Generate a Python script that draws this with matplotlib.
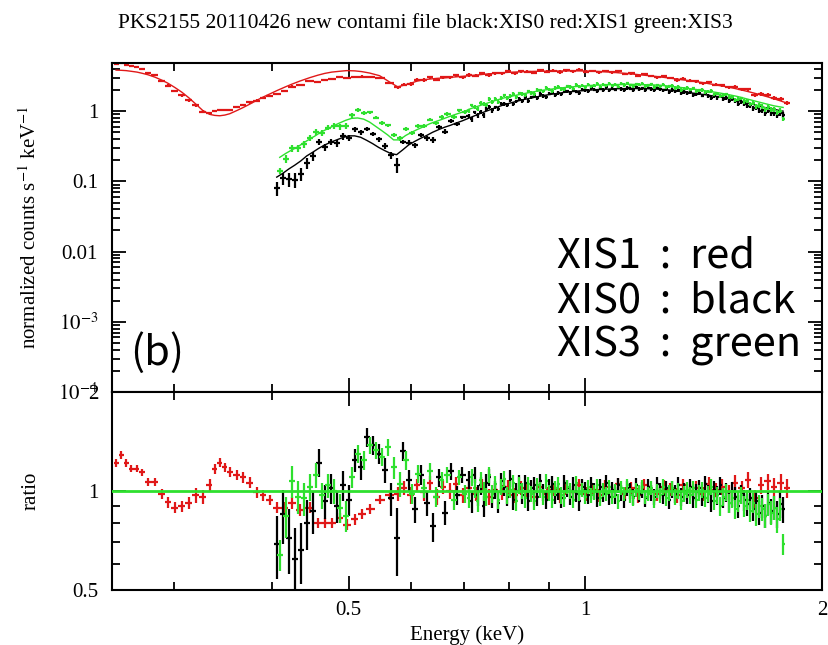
import numpy as np
import matplotlib
matplotlib.use('Agg')
import matplotlib.pyplot as plt
from matplotlib.ticker import LogLocator, NullFormatter

plt.rcParams['font.family'] = 'Liberation Serif'
plt.rcParams['mathtext.fontset'] = 'stix'

# XIS1 (rojo): energias (keV), modelo (counts/s/keV), cociente datos/modelo y error del cociente
e_xis1 = [0.2530, 0.2567, 0.2605, 0.2643, 0.2690, 0.2729, 0.2778, 0.2835, 0.2894, 0.2945,
          0.3006, 0.3068, 0.3131, 0.3196, 0.3262, 0.3329, 0.3378, 0.3428, 0.3479, 0.3530,
          0.3603, 0.3667, 0.3743, 0.3821, 0.3888, 0.3969, 0.4051, 0.4147, 0.4232, 0.4333,
          0.4461, 0.4567, 0.4661, 0.4758, 0.4870, 0.4971, 0.5089, 0.5194, 0.5317, 0.5474,
          0.5637,
          0.5771, 0.5882, 0.5995, 0.6110, 0.6227, 0.6347, 0.6469, 0.6593, 0.6719, 0.6848,
          0.6980, 0.7114, 0.7250, 0.7390, 0.7531, 0.7676, 0.7823, 0.7974, 0.8127, 0.8283,
          0.8441, 0.8603, 0.8768, 0.8936, 0.9108, 0.9283, 0.9461, 0.9642, 0.9827, 1.0016,
          1.0208, 1.0404, 1.0603, 1.0807, 1.1014, 1.1226, 1.1441, 1.1661, 1.1884, 1.2112,
          1.2345, 1.2582, 1.2823, 1.3069, 1.3320, 1.3576, 1.3836, 1.4102, 1.4372, 1.4648,
          1.4929, 1.5215, 1.5507, 1.5805, 1.6108, 1.6417, 1.6732, 1.7053, 1.7380, 1.7714,
          1.8054]
modelo_xis1 = [3.84, 3.82, 3.78, 3.70, 3.60, 3.47, 3.30, 3.05, 2.76, 2.50,
               2.17, 1.86, 1.55, 1.26, 1.02, 0.90, 0.87, 0.86, 0.88, 0.92,
               1.02, 1.12, 1.26, 1.43, 1.58, 1.76, 1.96, 2.20, 2.42, 2.68,
               3.00, 3.25, 3.45, 3.60, 3.70, 3.78, 3.75, 3.66, 3.49, 3.20,
               2.60,
               2.22, 2.35, 2.50, 2.68, 2.80, 2.87, 2.93, 2.97, 3.02, 3.08,
               3.13, 3.20, 3.26, 3.33, 3.40, 3.46, 3.52, 3.57, 3.60, 3.64,
               3.67, 3.69, 3.70, 3.71, 3.72, 3.73, 3.74, 3.75, 3.75, 3.73,
               3.71, 3.67, 3.63, 3.58, 3.52, 3.46, 3.39, 3.32, 3.25, 3.18,
               3.10, 3.03, 2.95, 2.87, 2.79, 2.71, 2.63, 2.55, 2.46, 2.37,
               2.28, 2.20, 2.10, 2.00, 1.90, 1.80, 1.70, 1.60, 1.50, 1.40,
               1.30]
ratio_xis1 = [1.22, 1.29, 1.22, 1.17, 1.17, 1.14, 1.065, 1.065, 0.98, 0.925,
              0.89, 0.90, 0.92, 0.97, 0.96, 1.04, 1.17, 1.22, 1.18, 1.14,
              1.12, 1.10, 1.06, 0.99, 0.97, 0.94, 0.89, 0.89, 0.92, 0.875,
              0.89, 0.80, 0.80, 0.80, 0.83, 0.79, 0.82, 0.85, 0.88, 0.94,
              0.97,
              0.98, 1.02, 0.97, 1.04, 0.99, 1.06, 0.96, 1.03, 1.00, 1.05,
              0.97, 1.02, 0.98, 1.04, 0.96, 1.01, 0.99, 1.03, 0.97, 1.02,
              1.00, 0.96, 1.03, 0.98, 1.01, 0.97, 1.02, 0.99, 1.04, 0.98,
              1.01, 0.97, 1.03, 1.00, 1.05, 0.98, 1.02, 0.97, 1.04, 1.00,
              0.98, 1.03, 1.01, 0.97, 1.04, 1.00, 1.02, 0.98, 1.05, 1.01,
              1.03, 0.99, 1.06, 1.02, 1.08, 0.95, 1.04, 1.07, 1.03, 1.06,
              1.02]
err_xis1 = [0.035, 0.035, 0.035, 0.03, 0.03, 0.03, 0.03, 0.03, 0.035, 0.035,
            0.035, 0.035, 0.04, 0.05, 0.05, 0.045, 0.04, 0.04, 0.04, 0.04,
            0.04, 0.04, 0.04, 0.04, 0.04, 0.035, 0.035, 0.035, 0.04, 0.035,
            0.035, 0.03, 0.03, 0.03, 0.03, 0.03, 0.03, 0.03, 0.03, 0.03,
            0.03,
            0.05, 0.05, 0.055, 0.05, 0.055, 0.05, 0.055, 0.05, 0.055, 0.05,
            0.05, 0.055, 0.05, 0.05, 0.055, 0.05, 0.05, 0.05, 0.05, 0.05,
            0.05, 0.05, 0.045, 0.05, 0.045, 0.05, 0.045, 0.045, 0.05, 0.045,
            0.045, 0.045, 0.05, 0.045, 0.045, 0.045, 0.045, 0.05, 0.045, 0.045,
            0.045, 0.05, 0.045, 0.05, 0.045, 0.05, 0.05, 0.05, 0.05, 0.05,
            0.055, 0.05, 0.055, 0.055, 0.06, 0.06, 0.06, 0.06, 0.065, 0.065,
            0.07]

# XIS0 / XIS3: canales anchos a baja energia, canales finos (comunes) por encima de 0.71 keV
e_xis0_baja = [0.405, 0.4122, 0.4195, 0.4269, 0.4344, 0.4421, 0.4500, 0.4579, 0.4660, 0.4743,
               0.4827, 0.4912, 0.4999, 0.5088, 0.5178, 0.5269, 0.5363, 0.5458, 0.5554, 0.5653,
               0.5753, 0.5855, 0.5959, 0.6064, 0.6171, 0.6281, 0.6392, 0.6505, 0.6620, 0.6738,
               0.6857, 0.6978]
e_xis3_baja = [0.4086, 0.4158, 0.4232, 0.4307, 0.4382, 0.4460, 0.4540, 0.4619, 0.4701, 0.4785,
               0.4870, 0.4955, 0.5043, 0.5133, 0.5224, 0.5315, 0.5410, 0.5506, 0.5603, 0.5703,
               0.5804, 0.5907, 0.6011, 0.6117, 0.6225, 0.6336, 0.6448, 0.6562, 0.6678, 0.6797,
               0.6917, 0.7039]
e_fi_alta = [0.7102, 0.7165, 0.7228, 0.7292, 0.7356, 0.7421, 0.7486, 0.7552, 0.7618, 0.7685,
             0.7753, 0.7821, 0.7891, 0.7961, 0.8030, 0.8101, 0.8173, 0.8245, 0.8317, 0.8390,
             0.8465, 0.8540, 0.8615, 0.8691, 0.8767, 0.8844, 0.8923, 0.9002, 0.9081, 0.9161,
             0.9241, 0.9322, 0.9405, 0.9488, 0.9571, 0.9655, 0.9741, 0.9827, 0.9913, 1.0000,
             1.0089, 1.0178, 1.0268, 1.0358, 1.0449, 1.0541, 1.0634, 1.0728, 1.0823, 1.0918,
             1.1014, 1.1111, 1.1209, 1.1308, 1.1408, 1.1508, 1.1610, 1.1712, 1.1815, 1.1919,
             1.2024, 1.2130, 1.2237, 1.2345, 1.2454, 1.2564, 1.2674, 1.2786, 1.2899, 1.3013,
             1.3127, 1.3243, 1.3359, 1.3477, 1.3596, 1.3716, 1.3837, 1.3959, 1.4082, 1.4206,
             1.4331, 1.4457, 1.4584, 1.4712, 1.4843, 1.4974, 1.5105, 1.5238, 1.5373, 1.5508,
             1.5645, 1.5783, 1.5922, 1.6062, 1.6204, 1.6347, 1.6490, 1.6635, 1.6782, 1.6930,
             1.7080, 1.7230, 1.7382, 1.7535, 1.7690, 1.7846]

# XIS0 (negro): 32 canales anchos + 106 finos
modelo_xis0 = [0.115, 0.13, 0.15, 0.17, 0.195, 0.23, 0.26, 0.295, 0.33, 0.36,
               0.39, 0.42, 0.445, 0.445, 0.425, 0.385, 0.345, 0.305, 0.275, 0.25,
               0.24, 0.28, 0.33, 0.37, 0.41, 0.45, 0.50, 0.545, 0.59, 0.63,
               0.68, 0.73,
               0.79, 0.825, 0.86, 0.895, 0.93, 0.965, 1.00, 1.04, 1.08, 1.12,
               1.16, 1.20, 1.24, 1.275, 1.31, 1.345, 1.38, 1.415, 1.45, 1.48,
               1.51, 1.545, 1.58, 1.61, 1.64, 1.67, 1.70, 1.725, 1.75, 1.775,
               1.80, 1.825, 1.85, 1.87, 1.89, 1.91, 1.93, 1.945, 1.96, 1.975,
               1.99, 2.005, 2.02, 2.03, 2.04, 2.05, 2.06, 2.07, 2.08, 2.085,
               2.09, 2.095, 2.10, 2.10, 2.10, 2.10, 2.10, 2.10, 2.10, 2.095,
               2.09, 2.08, 2.07, 2.06, 2.05, 2.035, 2.02, 2.00, 1.98, 1.955,
               1.93, 1.905, 1.88, 1.855, 1.83, 1.805, 1.78, 1.76, 1.74, 1.715,
               1.69, 1.665, 1.64, 1.615, 1.59, 1.565, 1.54, 1.51, 1.48, 1.45,
               1.42, 1.385, 1.35, 1.315, 1.28, 1.245, 1.21, 1.18, 1.15, 1.125,
               1.10, 1.08, 1.06, 1.04, 1.02, 1.00]
ratio_xis0 = [0.69, 0.85, 0.72, 0.62, 0.66, 0.80, 0.87, 1.22, 0.93, 1.02,
              0.90, 1.04, 0.94, 1.24, 1.18, 1.46, 1.38, 1.30, 1.16, 0.95,
              0.72, 1.32, 1.08, 0.88, 1.12, 0.92, 0.78, 1.10, 0.86, 1.15,
              0.97, 1.12,
              1.08, 0.93, 1.12, 0.97, 1.04, 0.90, 1.06, 1.10, 0.95, 1.01,
              0.92, 1.07, 1.03, 0.96, 1.09, 0.94, 1.00, 1.05, 0.97, 1.06,
              0.93, 1.02, 1.04, 0.96, 1.07, 0.99, 0.94, 1.03, 1.05, 0.97,
              1.00, 0.95, 1.06, 1.02, 0.96, 1.04, 0.98, 0.93, 1.03, 1.01,
              0.97, 1.05, 1.00, 0.95, 1.03, 0.98, 1.06, 0.96, 1.01, 0.97,
              1.04, 0.99, 0.94, 1.02, 1.00, 0.96, 1.04, 0.98, 1.01, 0.95,
              1.03, 0.99, 0.96, 1.05, 1.00, 0.97, 1.02, 0.94, 1.01, 0.98,
              1.04, 0.96, 1.00, 0.97, 1.03, 0.95, 0.99, 1.02, 0.96, 1.05,
              0.98, 0.93, 1.01, 0.97, 1.04, 0.95, 0.99, 0.92, 1.00, 0.96,
              0.90, 0.98, 0.94, 0.91, 0.95, 0.88, 0.93, 0.86, 0.90, 0.84,
              0.92, 0.87, 0.89, 0.85, 0.91, 0.88]
err_xis0 = [0.15, 0.16, 0.16, 0.15, 0.14, 0.14, 0.13, 0.12, 0.11, 0.11,
            0.10, 0.11, 0.10, 0.10, 0.10, 0.10, 0.09, 0.09, 0.10, 0.11,
            0.17, 0.09, 0.08, 0.08, 0.08, 0.08, 0.08, 0.07, 0.07, 0.07,
            0.065, 0.065,
            0.07, 0.07, 0.065, 0.07, 0.065, 0.065, 0.07, 0.065, 0.065, 0.065,
            0.065, 0.065, 0.065, 0.06, 0.065, 0.065, 0.06, 0.065, 0.06, 0.06,
            0.06, 0.06, 0.06, 0.06, 0.06, 0.06, 0.06, 0.06, 0.06, 0.06,
            0.06, 0.06, 0.06, 0.06, 0.055, 0.06, 0.055, 0.06, 0.055, 0.055,
            0.055, 0.055, 0.055, 0.055, 0.055, 0.055, 0.055, 0.055, 0.055, 0.055,
            0.055, 0.055, 0.055, 0.055, 0.055, 0.055, 0.055, 0.055, 0.055, 0.055,
            0.055, 0.055, 0.055, 0.055, 0.055, 0.06, 0.055, 0.06, 0.06, 0.06,
            0.06, 0.06, 0.06, 0.06, 0.06, 0.06, 0.06, 0.06, 0.06, 0.06,
            0.06, 0.065, 0.06, 0.065, 0.065, 0.065, 0.065, 0.065, 0.065, 0.065,
            0.07, 0.065, 0.07, 0.07, 0.07, 0.07, 0.07, 0.07, 0.075, 0.07,
            0.075, 0.075, 0.075, 0.08, 0.08, 0.08]

# XIS3 (verde): 32 canales anchos + 106 finos
modelo_xis3 = [0.22, 0.25, 0.28, 0.31, 0.355, 0.40, 0.45, 0.51, 0.56, 0.62,
               0.68, 0.74, 0.79, 0.80, 0.77, 0.70, 0.61, 0.53, 0.46, 0.39,
               0.39, 0.45, 0.50, 0.55, 0.60, 0.66, 0.71, 0.76, 0.82, 0.88,
               0.94, 1.00,
               1.06, 1.095, 1.13, 1.17, 1.21, 1.25, 1.29, 1.335, 1.38, 1.42,
               1.46, 1.505, 1.55, 1.585, 1.62, 1.655, 1.69, 1.725, 1.76, 1.795,
               1.83, 1.865, 1.90, 1.93, 1.96, 1.99, 2.02, 2.045, 2.07, 2.095,
               2.12, 2.145, 2.17, 2.19, 2.21, 2.23, 2.25, 2.265, 2.28, 2.295,
               2.31, 2.325, 2.34, 2.35, 2.36, 2.37, 2.38, 2.385, 2.39, 2.395,
               2.40, 2.405, 2.41, 2.41, 2.41, 2.405, 2.40, 2.395, 2.39, 2.385,
               2.38, 2.37, 2.36, 2.35, 2.34, 2.32, 2.30, 2.275, 2.25, 2.225,
               2.20, 2.17, 2.14, 2.115, 2.09, 2.065, 2.04, 2.01, 1.98, 1.955,
               1.93, 1.90, 1.87, 1.84, 1.81, 1.78, 1.75, 1.715, 1.68, 1.645,
               1.61, 1.57, 1.53, 1.495, 1.46, 1.42, 1.38, 1.345, 1.31, 1.28,
               1.25, 1.22, 1.19, 1.17, 1.15, 1.13]
ratio_xis3 = [0.64, 0.84, 1.07, 0.96, 0.95, 1.03, 1.12, 0.97, 1.04, 1.00,
              0.89, 0.84, 1.10, 1.30, 1.24, 1.38, 1.33, 1.27, 1.36, 1.18,
              1.05, 1.24, 0.98, 1.13, 1.02, 1.15, 0.96, 1.08, 1.12, 0.94,
              1.10, 0.98,
              0.95, 1.10, 1.02, 0.93, 1.08, 1.00, 0.96, 1.12, 0.98, 1.05,
              0.94, 1.03, 1.09, 0.97, 1.01, 1.06, 0.93, 1.04, 1.00, 0.95,
              1.05, 0.98, 0.93, 1.04, 1.01, 0.96, 1.07, 0.99, 0.94, 1.02,
              1.05, 0.97, 0.95, 1.03, 1.00, 0.94, 1.06, 0.98, 1.01, 0.96,
              1.03, 0.97, 0.99, 1.04, 0.95, 1.01, 0.98, 1.03, 0.96, 1.00,
              0.93, 1.02, 0.98, 1.04, 0.97, 0.95, 1.01, 0.99, 1.03, 0.96,
              0.98, 1.02, 0.94, 1.00, 0.97, 1.03, 0.95, 0.99, 1.02, 0.96,
              1.00, 0.93, 0.98, 1.01, 0.97, 1.02, 0.94, 0.99, 1.01, 0.95,
              0.98, 1.03, 0.93, 0.97, 0.90, 0.96, 0.99, 0.92, 0.95, 0.88,
              0.93, 0.97, 0.90, 0.94, 0.87, 0.92, 0.85, 0.90, 0.88, 0.84,
              0.91, 0.86, 0.89, 0.82, 0.88, 0.69]
err_xis3 = [0.07, 0.12, 0.12, 0.11, 0.11, 0.10, 0.10, 0.09, 0.09, 0.09,
            0.09, 0.09, 0.08, 0.08, 0.08, 0.08, 0.08, 0.08, 0.08, 0.09,
            0.09, 0.08, 0.07, 0.07, 0.07, 0.07, 0.065, 0.065, 0.065, 0.065,
            0.06, 0.06,
            0.065, 0.065, 0.065, 0.065, 0.06, 0.065, 0.06, 0.065, 0.06, 0.06,
            0.06, 0.06, 0.06, 0.06, 0.06, 0.06, 0.06, 0.06, 0.055, 0.06,
            0.055, 0.055, 0.055, 0.055, 0.055, 0.055, 0.055, 0.055, 0.055, 0.055,
            0.055, 0.055, 0.055, 0.05, 0.055, 0.05, 0.05, 0.05, 0.05, 0.05,
            0.05, 0.05, 0.05, 0.05, 0.05, 0.05, 0.05, 0.05, 0.05, 0.05,
            0.05, 0.05, 0.05, 0.05, 0.05, 0.05, 0.05, 0.05, 0.05, 0.05,
            0.05, 0.05, 0.05, 0.05, 0.05, 0.055, 0.05, 0.055, 0.055, 0.055,
            0.055, 0.055, 0.055, 0.055, 0.055, 0.055, 0.055, 0.055, 0.055, 0.055,
            0.055, 0.06, 0.055, 0.06, 0.06, 0.06, 0.06, 0.06, 0.06, 0.06,
            0.065, 0.06, 0.065, 0.065, 0.065, 0.065, 0.065, 0.07, 0.07, 0.07,
            0.07, 0.07, 0.075, 0.075, 0.07, 0.05]

titulo = 'PKS2155 20110426 new contami file black:XIS0 red:XIS1 green:XIS3'
rojo = '#e01818'
verde = '#2ee02e'


# Semianchura de cada canal a partir de los bordes geometricos entre centros
def semianchos(e):
    e = np.asarray(e)
    bordes = np.sqrt(e[1:] * e[:-1])
    lo = np.concatenate([[e[0] ** 2 / bordes[0]], bordes])
    hi = np.concatenate([bordes, [e[-1] ** 2 / bordes[-1]]])
    return [e - lo, hi - e]


series = [
    (e_xis1, modelo_xis1, ratio_xis1, err_xis1, rojo),
    (e_xis0_baja + e_fi_alta, modelo_xis0, ratio_xis0, err_xis0, 'black'),
    (e_xis3_baja + e_fi_alta, modelo_xis3, ratio_xis3, err_xis3, verde),
]

fig = plt.figure(figsize=(8.29, 6.45), dpi=100)
ax1 = fig.add_axes([0.1351, 0.3922, 0.8565, 0.5101])
ax2 = fig.add_axes([0.1351, 0.0853, 0.8565, 0.3069], sharex=ax1)

for e, mod, rat, err, c in series:
    e = np.asarray(e)
    mod = np.asarray(mod)
    rat = np.asarray(rat)
    err = np.asarray(err)
    xerr = semianchos(e)
    # panel superior: datos = modelo * cociente
    ax1.errorbar(e, mod * rat, xerr=xerr, yerr=mod * err, fmt='none',
                 ecolor=c, elinewidth=1.6)
    ax1.plot(e, mod, color=c, lw=1.0)
    # panel inferior: cociente
    ax2.errorbar(e, rat, xerr=xerr, yerr=err, fmt='none', ecolor=c,
                 elinewidth=1.6)

ax2.axhline(1.0, color=verde, lw=2.0, zorder=5)

for ax in (ax1, ax2):
    ax.set_xscale('log')
    ax.set_yscale('log')
    ax.set_xlim(0.25, 2.0)
    for s in ax.spines.values():
        s.set_linewidth(1.5)
    ax.tick_params(which='both', direction='in', top=True, right=True,
                   labelsize=15, width=1.3)
    ax.tick_params(which='major', length=10)
    ax.tick_params(which='minor', length=6)

ax1.set_ylim(1e-4, 4.85)
ax1.set_yticks([1e-4, 1e-3, 1e-2, 0.1, 1])
ax1.set_yticklabels(['$10^{-4}$', '$10^{-3}$', '0.01', '0.1', '1'])
ax1.yaxis.set_minor_locator(LogLocator(base=10, subs=np.arange(2, 10)))
ax1.yaxis.set_minor_formatter(NullFormatter())
ax1.tick_params(axis='x', labelbottom=False)
ax1.tick_params(axis='y', pad=10)
ax1.set_ylabel('normalized counts s$^{-1}$ keV$^{-1}$', fontsize=15)
ax1.yaxis.set_label_coords(-0.100, 0.5)

ax2.set_ylim(0.5, 2.0)
ax2.set_yticks([0.5, 1, 2])
ax2.set_yticklabels(['0.5', '1', '2'])
ax2.yaxis.set_minor_locator(LogLocator(base=10, subs=np.arange(2, 10)))
ax2.yaxis.set_minor_formatter(NullFormatter())
ax2.set_xticks([0.5, 1, 2])
ax2.set_xticklabels(['0.5', '1', '2'])
ax2.xaxis.set_minor_locator(LogLocator(base=10, subs=np.arange(2, 10)))
ax2.xaxis.set_minor_formatter(NullFormatter())
ax2.tick_params(axis='y', pad=10)
ax2.tick_params(axis='x', pad=8)
ax2.set_ylabel('ratio', fontsize=15)
ax2.yaxis.set_label_coords(-0.100, 0.5)
ax2.set_xlabel('Energy (keV)', fontsize=15)

fig.text(0.513, 0.965, titulo, ha='center', va='center', fontsize=15.5)

fig.text(0.157, 0.434, '(b)', fontsize=30, family='Noto Sans CJK JP')
for texto, yb in [('XIS1  :  red', 0.586), ('XIS0  :  black', 0.516),
                  ('XIS3  :  green', 0.447)]:
    fig.text(0.672, yb, texto, fontsize=30, family='Noto Sans CJK JP',
             va='baseline')

fig.savefig('out.png', dpi=100)
